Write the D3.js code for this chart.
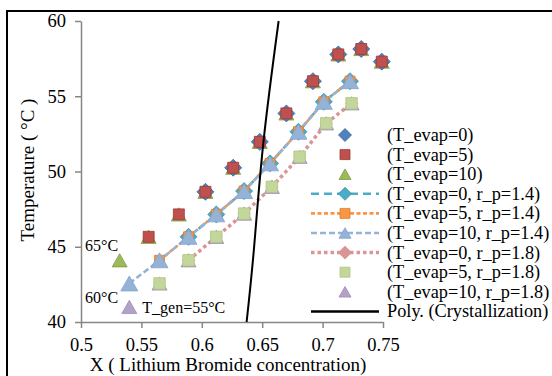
<!DOCTYPE html>
<html lang="en">
<head>
<meta charset="UTF-8">
<title>LiBr concentration vs temperature</title>
<script src="https://d3js.org/d3.v7.min.js"></script>
<style>
  body { margin: 0; background: #fff; }
  svg { display: block; font-family: "Liberation Serif", "Times New Roman", serif; }
</style>
</head>
<body>
<script>
// ---- data ----
// default r_p group (T_evap = 0 / 5 / 10 share these points, starting at different X)
const xBase = [0.532, 0.556, 0.581, 0.603, 0.626, 0.648, 0.670, 0.692, 0.713, 0.732, 0.749];
const tBase = [44.1, 45.66, 47.15, 48.65, 50.25, 51.97, 53.86, 56.0, 57.78, 58.14, 57.3];
// r_p = 1.4
const x14 = [0.540, 0.565, 0.589, 0.612, 0.635, 0.6565, 0.680, 0.701, 0.7227];
const t14 = [42.56, 44.1, 45.66, 47.15, 48.7, 50.54, 52.64, 54.63, 56.0];
// r_p = 1.8
const x18 = [0.540, 0.565, 0.589, 0.612, 0.635, 0.658, 0.681, 0.703, 0.724];
const t18 = [41.0, 42.56, 44.1, 45.66, 47.2, 48.98, 50.98, 53.2, 54.53];
// crystallization polynomial
const xCryst = [0.6371, 0.6432, 0.6509, 0.6636];
const tCryst = [40, 44.89, 51.87, 60];

const xTicks = [0.5, 0.55, 0.6, 0.65, 0.7, 0.75];
const xTickLabels = ["0.5", "0.55", "0.6", "0.65", "0.7", "0.75"];
const yTicks = [40, 45, 50, 55, 60];

const legendLabels = [
    "(T_evap=0)", "(T_evap=5)", "(T_evap=10)",
    "(T_evap=0, r_p=1.4)", "(T_evap=5, r_p=1.4)", "(T_evap=10, r_p=1.4)",
    "(T_evap=0, r_p=1.8)", "(T_evap=5, r_p=1.8)", "(T_evap=10, r_p=1.8)",
    "Poly. (Crystallization)"
];
const annotations = ["65°C", "60°C", "T_gen=55°C"];

// series: which arrays, first index used, marker + line style
const series = [
    { xs: xBase, ts: tBase, from: 3, shape: "diamond", size: 8.5, fill: "#4F81BD", stroke: "#3A6698", dash: null },
    { xs: xBase, ts: tBase, from: 1, shape: "square", size: 11, fill: "#C0504D", stroke: "#9A3B38", dash: null },
    { xs: xBase, ts: tBase, from: 0, shape: "triangle", size: 15, fill: "#9BBB59", stroke: "#7E9C43", dash: null },
    { xs: x14, ts: t14, from: 2, shape: "diamond", size: 8.5, fill: "#4BACC6", stroke: "#3A93AB", line: "#4BACC6", dash: "8,5", lw: 2.6 },
    { xs: x14, ts: t14, from: 1, shape: "square", size: 10, fill: "#F79646", stroke: "#E07E2C", line: "#F79646", dash: "4,2.5", lw: 2.6 },
    { xs: x14, ts: t14, from: 0, shape: "triangle", size: 17, fill: "#95B3D7", stroke: "#83A3CF", line: "#95B3D7", dash: "6,3", lw: 2.6 },
    { xs: x18, ts: t18, from: 2, shape: "diamond", size: 6, fill: "#D99694", stroke: "#D99694", line: "#D99694", dash: "3.5,3", lw: 3.5 },
    { xs: x18, ts: t18, from: 1, shape: "square", size: 11.5, fill: "#C3D69B", stroke: "#B0C780", dash: null },
    { xs: x18, ts: t18, from: 0, shape: "triangle", size: 15, fill: "#B3A2C7", stroke: "#9F8CB8", dash: null }
];
// plot drawing order (lower entries drawn on top)
const drawOrder = [2, 0, 1, 3, 4, 5, 6, 8, 7];

const width = 552, height = 376;
const marginLeft = 81, plotRight = 383, plotTop = 21, plotBottom = 322;

const svg = d3.select("body").append("svg")
    .attr("width", width)
    .attr("height", height);

// chart frame (only top/left show in the crop)
svg.append("rect")
    .attr("x", 7).attr("y", 11)
    .attr("width", 700).attr("height", 500)
    .attr("fill", "none").attr("stroke", "#000").attr("stroke-width", 2);

const x = d3.scaleLinear().domain([0.5, 0.75]).range([marginLeft, plotRight]);
const y = d3.scaleLinear().domain([40, 60]).range([plotBottom, plotTop]);

function markerPath(shape, s) {
    if (shape === "diamond") return `M0,${-s}L${s},0L0,${s}L${-s},0Z`;
    if (shape === "square") return `M${-s / 2},${-s / 2}h${s}v${s}h${-s}Z`;
    const h = s * 0.88;
    return `M0,${-h / 2}L${s / 2},${h / 2}L${-s / 2},${h / 2}Z`;
}

// axes
const yAxis = svg.append("g")
    .attr("transform", `translate(${marginLeft},0)`)
    .call(d3.axisLeft(y).tickValues(yTicks).tickSize(6).tickSizeOuter(0).tickPadding(9));
const xAxis = svg.append("g")
    .attr("transform", `translate(0,${plotBottom})`)
    .call(d3.axisBottom(x).tickValues(xTicks).tickFormat((d, i) => xTickLabels[i])
        .tickSize(6).tickSizeOuter(0).tickPadding(10));
[yAxis, xAxis].forEach(g => {
    g.attr("font-family", null);
    g.select(".domain").attr("stroke", "#868686").attr("stroke-width", 1.5);
    g.selectAll(".tick line").attr("stroke", "#868686").attr("stroke-width", 1.5);
    g.selectAll(".tick text").attr("fill", "#000").style("font-size", "18.5px");
});

// axis titles
svg.append("text")
    .attr("x", (marginLeft + plotRight) / 2 - 4)
    .attr("y", 371)
    .attr("text-anchor", "middle")
    .style("font-size", "19px")
    .text("X ( Lithium Bromide concentration)");
svg.append("text")
    .attr("transform", "translate(34,170) rotate(-90)")
    .attr("text-anchor", "middle")
    .style("font-size", "19px")
    .text("Temperature ( °C )");

// series lines
const line = d3.line().x(d => x(d[0])).y(d => y(d[1]));
const pts = s => s.xs.slice(s.from).map((v, i) => [v, s.ts[s.from + i]]);

series.forEach(s => {
    if (!s.dash) return;
    svg.append("path")
        .datum(pts(s))
        .attr("d", line)
        .attr("fill", "none")
        .attr("stroke", s.line)
        .attr("stroke-width", s.lw)
        .attr("stroke-dasharray", s.dash);
});

// markers
drawOrder.forEach(k => {
    const s = series[k];
    svg.append("g").selectAll("path").data(pts(s)).join("path")
        .attr("transform", d => `translate(${x(d[0])},${y(d[1])})`)
        .attr("d", markerPath(s.shape, s.size))
        .attr("fill", s.fill)
        .attr("stroke", s.stroke)
        .attr("stroke-width", 0.8);
});

// crystallization line
svg.append("path")
    .datum(xCryst.map((v, i) => [v, tCryst[i]]))
    .attr("d", line.curve(d3.curveNatural))
    .attr("fill", "none")
    .attr("stroke", "#000")
    .attr("stroke-width", 2);

// annotations
svg.append("text").attr("x", x(0.5) + 4).attr("y", y(tBase[0]) - 9)
    .style("font-size", "16px").text(annotations[0]);
svg.append("text").attr("x", x(0.5) + 4).attr("y", y(t14[0]) + 20)
    .style("font-size", "16px").text(annotations[1]);
svg.append("text").attr("x", x(x18[0]) + 13).attr("y", y(t18[0]) + 6)
    .style("font-size", "16px").text(annotations[2]);

// legend
const legX = 345, legY0 = 135, legStep = 19.6;
const legend = svg.append("g");
legendLabels.forEach((label, i) => {
    const ly = legY0 + i * legStep;
    const s = series[i];
    if (s) {
        if (s.dash) {
            legend.append("line")
                .attr("x1", 311).attr("x2", 379).attr("y1", ly).attr("y2", ly)
                .attr("stroke", s.line).attr("stroke-width", s.lw)
                .attr("stroke-dasharray", s.dash);
        }
        const ms = s.shape === "diamond" ? 6.5 : s.shape === "square" ? 10 : 12;
        legend.append("path")
            .attr("transform", `translate(${legX},${ly})`)
            .attr("d", markerPath(s.shape, ms))
            .attr("fill", s.fill).attr("stroke", s.stroke).attr("stroke-width", 0.8);
    } else {
        legend.append("line")
            .attr("x1", 311).attr("x2", 379).attr("y1", ly).attr("y2", ly)
            .attr("stroke", "#000").attr("stroke-width", 2.5);
    }
    legend.append("text")
        .attr("x", 387).attr("y", ly + 6)
        .style("font-size", "18.3px")
        .text(label);
});
</script>
</body>
</html>
